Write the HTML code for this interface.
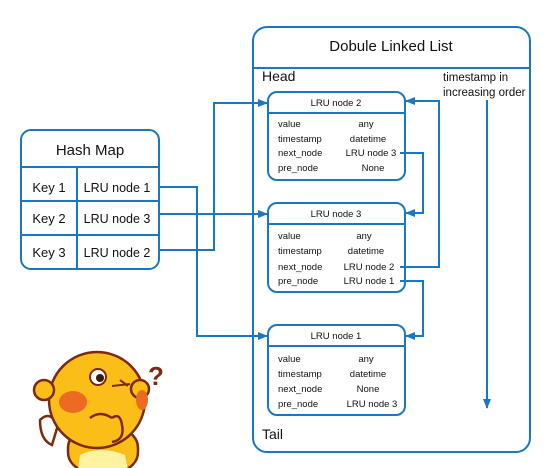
<!DOCTYPE html>
<html><head><style>
body{margin:0;background:#fff;}
svg{display:block;font-family:"Liberation Sans",sans-serif;}
</style></head><body>
<svg width="553" height="468" viewBox="0 0 553 468">
<defs><marker id="a" markerWidth="10" markerHeight="8" refX="9" refY="4" orient="auto" markerUnits="userSpaceOnUse"><path d="M0,0 L10,4 L0,8 Z" fill="#1a78c2"/></marker></defs>
<g stroke="#1a78c2" stroke-width="2" fill="none">
<rect x="253" y="27" width="277" height="425" rx="14"/>
<line x1="253" y1="68" x2="530" y2="68"/>
<rect x="268" y="92" width="137" height="88" rx="9"/><line x1="268" y1="113" x2="405" y2="113"/>
<rect x="268" y="203" width="137" height="89" rx="9"/><line x1="268" y1="224" x2="405" y2="224"/>
<rect x="268" y="325" width="137" height="90" rx="9"/><line x1="268" y1="346" x2="405" y2="346"/>
<rect x="21" y="130" width="138" height="139" rx="10"/>
<line x1="21" y1="167" x2="159" y2="167"/><line x1="21" y1="201" x2="159" y2="201"/><line x1="21" y1="235" x2="159" y2="235"/>
<line x1="77" y1="167" x2="77" y2="269"/>
<polyline points="159,187 197,187 197,336 267,336" marker-end="url(#a)"/>
<polyline points="159,214 267,214" marker-end="url(#a)"/>
<polyline points="159,250 214,250 214,103 267,103" marker-end="url(#a)"/>
<polyline points="400,153 423,153 423,213 406,213" marker-end="url(#a)"/>
<polyline points="400,267 439,267 439,101 406,101" marker-end="url(#a)"/>
<polyline points="400,281 423,281 423,336 406,336" marker-end="url(#a)"/>
<polyline points="487,100 487,408" marker-end="url(#a)"/>
</g>
<g font-size="15" fill="#111">
<text x="391" y="51" text-anchor="middle">Dobule Linked List</text>
<text x="90" y="155" text-anchor="middle">Hash Map</text>
<text x="49" y="192" text-anchor="middle" font-size="13">Key 1</text>
<text x="49" y="223" text-anchor="middle" font-size="13">Key 2</text>
<text x="49" y="257" text-anchor="middle" font-size="13">Key 3</text>
<text x="117" y="192" text-anchor="middle" font-size="12.5">LRU node 1</text>
<text x="117" y="223" text-anchor="middle" font-size="12.5">LRU node 3</text>
<text x="117" y="257" text-anchor="middle" font-size="12.5">LRU node 2</text>
<text x="262" y="81" font-size="14">Head</text>
<text x="262" y="439" font-size="14">Tail</text>
<text x="443" y="81" font-size="11.5">timestamp in</text>
<text x="443" y="96" font-size="11.5">increasing order</text>
</g>
<g font-size="9.5" fill="#111">
<text x="336" y="106" text-anchor="middle">LRU node 2</text>
<text x="278" y="127">value</text><text x="366" y="127" text-anchor="middle">any</text>
<text x="278" y="142">timestamp</text><text x="368" y="142" text-anchor="middle">datetime</text>
<text x="278" y="156">next_node</text><text x="371" y="156" text-anchor="middle">LRU node 3</text>
<text x="278" y="171">pre_node</text><text x="373" y="171" text-anchor="middle">None</text>
<text x="336" y="217" text-anchor="middle">LRU node 3</text>
<text x="278" y="239">value</text><text x="364" y="239" text-anchor="middle">any</text>
<text x="278" y="254">timestamp</text><text x="366" y="254" text-anchor="middle">datetime</text>
<text x="278" y="270">next_node</text><text x="369" y="270" text-anchor="middle">LRU node 2</text>
<text x="278" y="284">pre_node</text><text x="369" y="284" text-anchor="middle">LRU node 1</text>
<text x="336" y="339" text-anchor="middle">LRU node 1</text>
<text x="278" y="362">value</text><text x="366" y="362" text-anchor="middle">any</text>
<text x="278" y="377">timestamp</text><text x="368" y="377" text-anchor="middle">datetime</text>
<text x="278" y="392">next_node</text><text x="368" y="392" text-anchor="middle">None</text>
<text x="278" y="407">pre_node</text><text x="372" y="407" text-anchor="middle">LRU node 3</text>
</g>
<g stroke="#7a2a10" stroke-width="2.5">
<path d="M40,420 Q50,410 58,425 L52,445 Q40,440 40,420Z" fill="#fff"/>
<rect x="68" y="430" width="70" height="40" rx="18" fill="#fbbd18"/>
<path d="M80,455 Q100,445 125,455 L128,470 L78,470Z" fill="#fdf3a0" stroke="none"/>
<circle cx="97" cy="400" r="48" fill="#fbbd18"/>
<circle cx="140" cy="389" r="9" fill="#fbbd18"/>
<circle cx="44" cy="390" r="10" fill="#fbbd18"/>
</g>
<ellipse cx="73" cy="402" rx="14" ry="11" fill="#ec6a22"/>
<ellipse cx="142" cy="400" rx="6" ry="10" fill="#ec6a22"/>
<circle cx="98" cy="377" r="8" fill="#fff" stroke="#7a2a10" stroke-width="2"/>
<circle cx="100" cy="378" r="4" fill="#3a1a0a"/>
<path d="M112,386 L130,384 M120,380 L128,386" stroke="#7a2a10" stroke-width="2" fill="none"/>
<path d="M90,418 Q100,410 112,418" stroke="#7a2a10" stroke-width="2.5" fill="none"/>
<path d="M112,418 Q120,412 122,425 Q125,440 112,442" stroke="#7a2a10" stroke-width="2.5" fill="#fbbd18"/>
<text x="148" y="385" font-size="26" font-weight="bold" fill="#7a2a10">?</text>
</svg>
</body></html>
